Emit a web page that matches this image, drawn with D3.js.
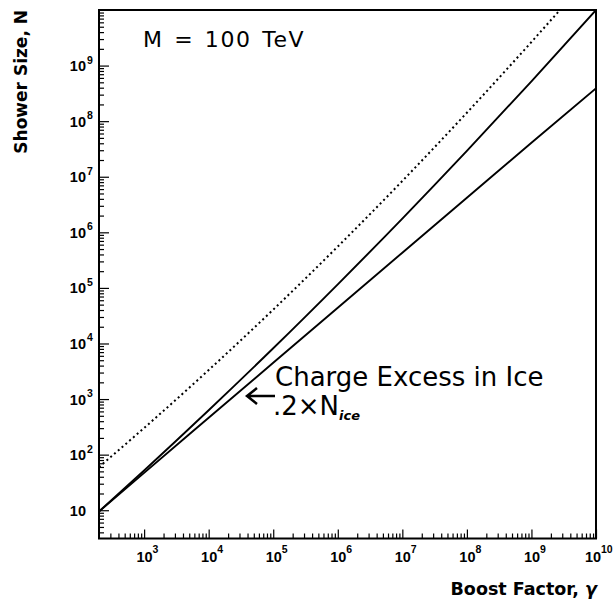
<!DOCTYPE html>
<html>
<head>
<meta charset="utf-8">
<script src="https://cdn.jsdelivr.net/npm/d3@7"></script>
<style>
    body { margin: 0; background: #fff; }
    svg { display: block; }
    .tick-label { font-family: "Liberation Sans", Arial, sans-serif; font-weight: bold; fill: #000; }
    .title { font-family: "DejaVu Sans", sans-serif; font-weight: bold; fill: #000; }
    .note { font-family: "DejaVu Sans", sans-serif; fill: #000; }
</style>
</head>
<body>
<div id="chart"></div>
<script>
// boost factor gamma (x) and shower sizes N (y)
var boost = [2e2, 1e3, 1e4, 1e5, 1e6, 1e7, 1e8, 1e9, 1e10];
var showerIce = [9.5, 52, 630, 8200, 1.16e5, 1.77e6, 2.92e7, 5.2e8, 1e10];
var chargeExcess = [9.5, 47, 460, 4500, 4.4e4, 4.3e5, 4.2e6, 4.1e7, 3.9e8];
var showerDotted = [60, 302, 3330, 4.07e4, 5.55e5, 8.4e6, 1.42e8, 2.66e9, 5.5e10];

var xTickExps = [3, 4, 5, 6, 7, 8, 9, 10];
var yTickExps = [1, 2, 3, 4, 5, 6, 7, 8, 9];

var width = 615, height = 603;
var box = { left: 99, right: 596, top: 10, bottom: 538.5 };

var x = d3.scaleLog().domain([200, 1e10]).range([box.left, box.right]);
var y = d3.scaleLog().domain([3.1, 1e10]).range([box.bottom, box.top]);

var svg = d3.select("#chart").append("svg")
    .attr("width", width)
    .attr("height", height);

svg.append("defs").append("clipPath").attr("id", "plot-clip")
    .append("rect")
    .attr("x", box.left).attr("y", box.top)
    .attr("width", box.right - box.left)
    .attr("height", box.bottom - box.top);

// minor ticks 2..9 of each decade inside a domain
function minors(lo, hi) {
    var out = [];
    for (var k = 0; k <= 10; k++)
        for (var m = 2; m <= 9; m++) {
            var v = m * Math.pow(10, k);
            if (v > lo && v < hi) out.push(v);
        }
    return out;
}

function noDomain(g) { g.select(".domain").remove(); }

var xMajor = xTickExps.map(function (e) { return Math.pow(10, e); });
var yMajor = yTickExps.map(function (e) { return Math.pow(10, e); });

svg.append("g").attr("transform", "translate(0," + box.bottom + ")")
    .call(d3.axisBottom(x).tickValues(xMajor).tickSize(-9).tickFormat(""))
    .call(noDomain);
svg.append("g").attr("transform", "translate(0," + box.bottom + ")")
    .call(d3.axisBottom(x).tickValues(minors(200, 1e10)).tickSize(-5).tickFormat(""))
    .call(noDomain);
svg.append("g").attr("transform", "translate(" + box.left + ",0)")
    .call(d3.axisLeft(y).tickValues(yMajor).tickSize(-10).tickFormat(""))
    .call(noDomain);
svg.append("g").attr("transform", "translate(" + box.left + ",0)")
    .call(d3.axisLeft(y).tickValues(minors(3.1, 1e10)).tickSize(-5).tickFormat(""))
    .call(noDomain);

svg.selectAll(".tick line").attr("stroke", "#000").attr("stroke-width", 1.2);

// tick labels 10^n
var xl = svg.append("g");
xTickExps.forEach(function (e) {
    var px = x(Math.pow(10, e)) + 0.5 - (String(e).length - 1) * 3.5;
    xl.append("text").attr("class", "tick-label")
        .attr("x", px).attr("y", 562)
        .attr("text-anchor", "middle")
        .style("font-size", "14.5px")
        .text("10");
    xl.append("text").attr("class", "tick-label")
        .attr("x", px + 8).attr("y", 553)
        .style("font-size", "10.5px")
        .text(e);
});

var yl = svg.append("g");
yTickExps.forEach(function (e) {
    var py = y(Math.pow(10, e));
    yl.append("text").attr("class", "tick-label")
        .attr("x", 86).attr("y", py + 5.5)
        .attr("text-anchor", "end")
        .style("font-size", "14.5px")
        .text("10");
    if (e > 1) {
        yl.append("text").attr("class", "tick-label")
            .attr("x", 87).attr("y", py - 2)
            .style("font-size", "10.5px")
            .text(e);
    }
});

// curves, smooth in log-log space
var line = d3.line()
    .curve(d3.curveMonotoneX)
    .x(function (d) { return x(d[0]); })
    .y(function (d) { return y(d[1]); });

var curves = svg.append("g").attr("clip-path", "url(#plot-clip)")
    .attr("fill", "none").attr("stroke", "#000");

curves.append("path")
    .attr("d", line(d3.zip(boost, showerDotted)))
    .attr("stroke-width", 2)
    .attr("stroke-dasharray", "2,3");
curves.append("path")
    .attr("d", line(d3.zip(boost, showerIce)))
    .attr("stroke-width", 1.9);
curves.append("path")
    .attr("d", line(d3.zip(boost, chargeExcess)))
    .attr("stroke-width", 1.9);

// frame
svg.append("rect")
    .attr("x", box.left).attr("y", box.top)
    .attr("width", box.right - box.left)
    .attr("height", box.bottom - box.top)
    .attr("fill", "none").attr("stroke", "#000").attr("stroke-width", 2);

// axis titles
svg.append("text").attr("class", "title")
    .attr("x", 597).attr("y", 595)
    .attr("text-anchor", "end")
    .style("font-size", "17.5px")
    .text("Boost Factor, ")
    .append("tspan").style("font-style", "italic").text("γ");

svg.append("text").attr("class", "title")
    .attr("transform", "translate(27,10) rotate(-90)")
    .attr("text-anchor", "end")
    .style("font-size", "17px")
    .text("Shower Size, N");

// annotations
svg.append("text").attr("class", "note")
    .attr("x", 143).attr("y", 47.3)
    .style("font-size", "22px")
    .style("letter-spacing", "1.6px")
    .style("word-spacing", "2px")
    .text("M = 100 TeV");

svg.append("text").attr("class", "note")
    .attr("x", 275).attr("y", 386)
    .style("font-size", "26px")
    .text("Charge Excess in Ice");

var n2 = svg.append("text").attr("class", "note")
    .attr("x", 273).attr("y", 415)
    .style("font-size", "26px")
    .text(".2×N");
n2.append("tspan")
    .attr("dy", 5)
    .style("font-size", "13px").style("font-weight", "bold").style("font-style", "italic")
    .text("ice");

svg.append("path")
    .attr("d", "M275,396H248M257,388L247,396L257,404")
    .attr("fill", "none").attr("stroke", "#000").attr("stroke-width", 2.5);
</script>
</body>
</html>
